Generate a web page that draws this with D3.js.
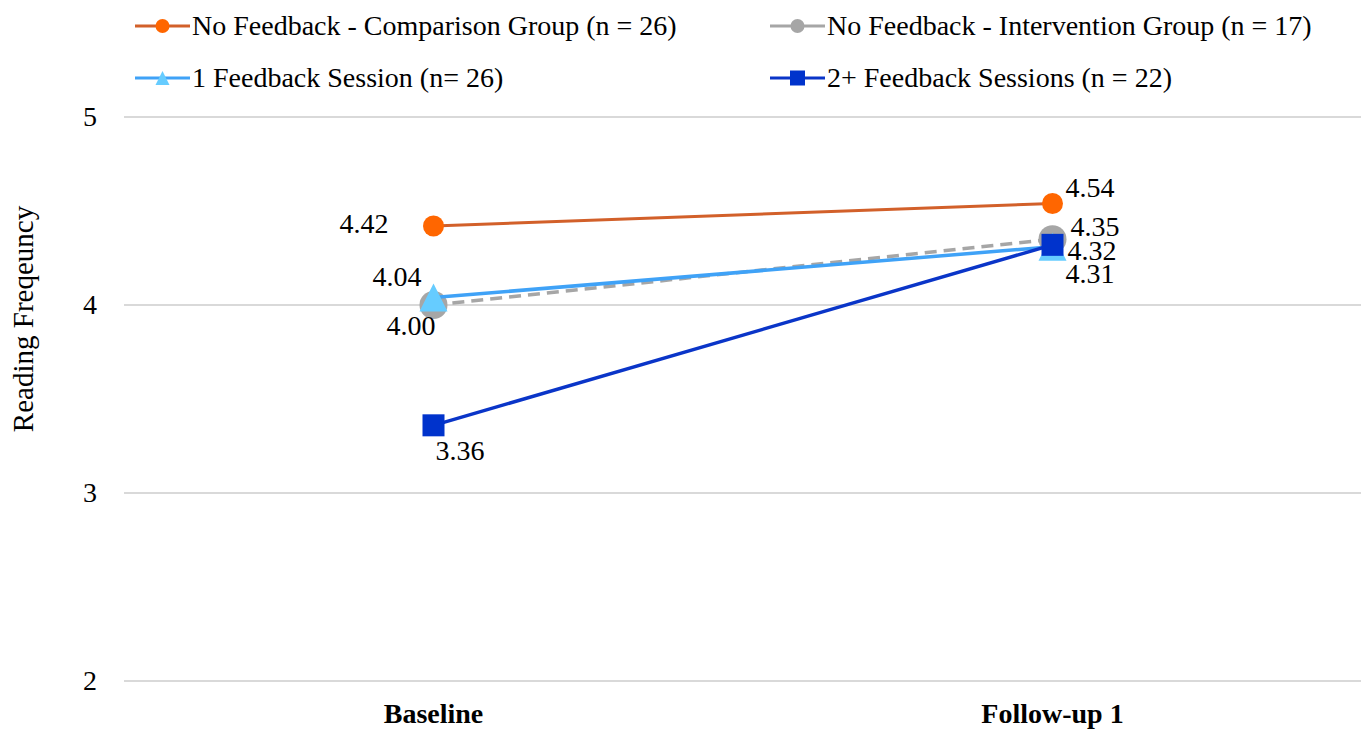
<!DOCTYPE html>
<html>
<head>
<meta charset="utf-8">
<script src="https://cdn.jsdelivr.net/npm/d3@7/dist/d3.min.js"></script>
<style>
  html, body { margin: 0; padding: 0; background: #fff; }
  svg { display: block; }
  svg text { font-family: "Liberation Serif", "Times New Roman", "DejaVu Serif", serif; }
</style>
</head>
<body>
<svg id="chart" width="1361" height="729"></svg>
<script>
// Time points and per-group mean reading frequency
const timepoints = ["Baseline", "Follow-up 1"];
const comparisonGroup = [4.42, 4.54];
const interventionNoFeedback = [4.00, 4.35];
const oneFeedback = [4.04, 4.31];
const twoPlusFeedback = [3.36, 4.32];
const yTicks = [2, 3, 4, 5];

const seriesNames = [
  "No Feedback - Comparison Group (n = 26)",
  "No Feedback - Intervention Group (n = 17)",
  "1 Feedback Session (n= 26)",
  "2+ Feedback Sessions (n = 22)"
];

// Styling per series; label offsets are relative to each marker centre
const series = [
  { name: seriesNames[0], values: comparisonGroup, line: "#D2602A", fill: "#FF6600", marker: "circle",
    size: 21, width: 3, dash: null, legendSize: 14,
    labelOffsets: [[-94, 7], [13, -6]] },
  { name: seriesNames[1], values: interventionNoFeedback, line: "#A6A6A6", fill: "#A6A6A6", marker: "circle",
    size: 28, width: 3.5, dash: "12,7", legendSize: 14,
    labelOffsets: [[-47, 30], [18, -3]] },
  { name: seriesNames[2], values: oneFeedback, line: "#3FA2F7", fill: "#66CCFF", marker: "triangle",
    size: 28, width: 3.5, dash: null, legendSize: 14,
    labelOffsets: [[-61, -11], [13, 36]] },
  { name: seriesNames[3], values: twoPlusFeedback, line: "#0A35C8", fill: "#0033CC", marker: "square",
    size: 22, width: 3.5, dash: null, legendSize: 15,
    labelOffsets: [[2, 35], [15, 15]] }
];

(function drawChart() {
  const svg = d3.select("#chart");
  const plotLeft = 124, plotRight = 1361, plotTop = 117, plotBottom = 681;
  const serif = "'Liberation Serif', 'Times New Roman', 'DejaVu Serif', serif";
  const fontSize = 28;

  const x = d3.scaleBand().domain(timepoints).range([plotLeft, plotRight + 1]);
  const y = d3.scaleLinear().domain([2, 5]).range([plotBottom, plotTop]);

  // Horizontal gridlines
  svg.append("g")
    .selectAll("line")
    .data(yTicks)
    .join("line")
    .attr("x1", plotLeft).attr("x2", plotRight)
    .attr("y1", d => y(d)).attr("y2", d => y(d))
    .attr("stroke", "#D9D9D9").attr("stroke-width", 2);

  // Y axis labels
  const yAxis = d3.axisLeft(y).tickValues(yTicks).tickFormat(d3.format("d")).tickSize(0).tickPadding(27);
  const yg = svg.append("g").attr("transform", `translate(${plotLeft},0)`).call(yAxis);
  yg.select(".domain").remove();
  yg.attr("font-family", serif);
  yg.selectAll("text").attr("font-size", fontSize).attr("fill", "#000");

  // X axis labels
  const xAxis = d3.axisBottom(x).tickSize(0).tickPadding(22);
  const xg = svg.append("g").attr("transform", `translate(0,${plotBottom})`).call(xAxis);
  xg.select(".domain").remove();
  xg.attr("font-family", serif);
  xg.selectAll("text").attr("font-size", fontSize).attr("font-weight", "bold").attr("fill", "#000");

  // Y axis title
  svg.append("text")
    .attr("transform", `translate(33,319) rotate(-90)`)
    .attr("text-anchor", "middle")
    .attr("font-family", serif)
    .attr("font-size", 29)
    .text("Reading Freqeuncy");

  const cx = d => x(d) + x.bandwidth() / 2;
  const lineGen = d3.line().x((d, i) => cx(timepoints[i])).y(d => y(d));

  function drawMarker(g, type, px, py, size, fill) {
    if (type === "circle") {
      g.append("circle").attr("cx", px).attr("cy", py).attr("r", size / 2).attr("fill", fill);
    } else if (type === "square") {
      g.append("rect").attr("x", px - size / 2).attr("y", py - size / 2)
        .attr("width", size).attr("height", size).attr("fill", fill);
    } else {
      g.append("path")
        .attr("d", `M${px},${py - size / 2} L${px + size / 2},${py + size / 2} L${px - size / 2},${py + size / 2} Z`)
        .attr("fill", fill);
    }
  }

  // Series lines and markers
  series.forEach(s => {
    const g = svg.append("g");
    g.append("path")
      .attr("d", lineGen(s.values))
      .attr("fill", "none")
      .attr("stroke", s.line)
      .attr("stroke-width", s.width)
      .attr("stroke-dasharray", s.dash);
    s.values.forEach((v, i) => drawMarker(g, s.marker, cx(timepoints[i]), y(v), s.size, s.fill));
  });

  // Data labels
  series.forEach(s => {
    s.values.forEach((v, i) => {
      const [dx, dy] = s.labelOffsets[i];
      svg.append("text")
        .attr("x", cx(timepoints[i]) + dx)
        .attr("y", y(v) + dy)
        .attr("font-family", serif)
        .attr("font-size", fontSize)
        .attr("fill", "#000")
        .text(d3.format(".2f")(v));
    });
  });

  // Legend
  const legendPos = [[135, 26], [770, 26], [135, 78], [770, 78]];
  series.forEach((s, i) => {
    const [lx, ly] = legendPos[i];
    const g = svg.append("g");
    g.append("line").attr("x1", lx).attr("x2", lx + 55).attr("y1", ly).attr("y2", ly)
      .attr("stroke", s.line).attr("stroke-width", 3);
    drawMarker(g, s.marker, lx + 27.5, ly, s.legendSize, s.fill);
    g.append("text").attr("x", lx + 57).attr("y", ly + 9)
      .attr("font-family", serif).attr("font-size", fontSize).attr("fill", "#000").text(s.name);
  });
})();
</script>
</body>
</html>
